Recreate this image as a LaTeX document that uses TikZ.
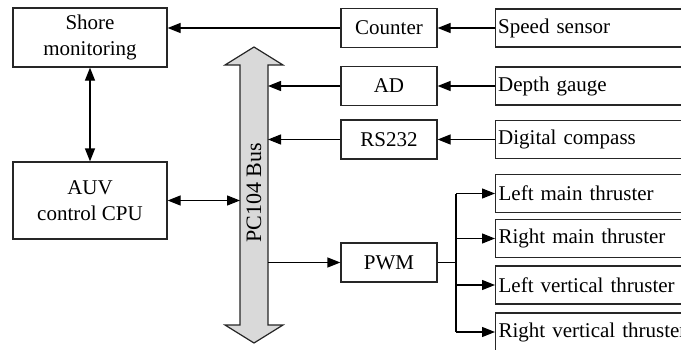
\documentclass[tikz,border=0pt]{standalone}
\usepackage{fontspec}
\setmainfont{Liberation Serif}
\usetikzlibrary{positioning,arrows.meta}

\tikzset{
  box/.style={draw=black!85, line width=1.2pt, rectangle, inner sep=0pt,
    align=center, font=\fontsize{21}{26}\selectfont},
  unit/.style={box, minimum width=96pt, minimum height=39pt},
  outer/.style={box, minimum height=38pt, text width=214pt, inner xsep=3pt, align=left},
  link/.style={line width=1.2pt, -{Triangle[length=13pt,width=10pt]}},
  both/.style={line width=1.2pt, {Triangle[length=13pt,width=10pt]}-{Triangle[length=13pt,width=10pt]}},
}

\begin{document}
\begin{tikzpicture}[x=1pt,y=-1pt]
  \useasboundingbox (0,0) rectangle (681,349);
  \clip (0,0) rectangle (681,349);

  % host side
  \node[box, minimum width=154pt, minimum height=59pt] (shore) at (90,37.5) {Shore\\monitoring};
  \node[box, minimum width=154pt, minimum height=77pt] (cpu) at (90,200.5) {AUV\\control CPU};

  % bus arrow
  \coordinate (busN) at (254,47);
  \coordinate (busS) at (254,343);
  \coordinate (busL) at (240,0);
  \coordinate (busR) at (268,0);
  \draw[line width=1.2pt, draw=black!85, fill=black!15]
    (240,65) -- (225,65) -- (busN) -- (283,65) -- (268,65) -- (268,325)
    -- (283,325) -- (busS) -- (225,325) -- (240,325) -- cycle;
  \node[rotate=90, font=\fontsize{22}{26}\selectfont] (buslabel) at (254,193) {PC104 Bus};

  % interface units
  \node[unit] (cnt) at (389,28) {Counter};
  \node[unit] (ad) at (389,86) {AD};
  \node[unit] (rs) at (389,139.5) {RS232};
  \node[unit] (pwm) at (389,262.5) {PWM};

  % sensors
  \node[outer, right=57pt of cnt] (speed) {Speed sensor};
  \node[outer, right=57pt of ad] (depth) {Depth gauge};
  \node[outer, right=57pt of rs] (compass) {Digital compass};

  % thrusters
  \node[outer, anchor=west] (lmt) at (495,193.5) {Left main thruster};
  \node[outer, anchor=west] (rmt) at (495,238.5) {Right main thruster};
  \node[outer, anchor=west] (lvt) at (495,285) {Left vertical thruster};
  \node[outer, anchor=west] (rvt) at (495,332) {Right vertical thruster};

  % connections
  \draw[link] (speed) -- (cnt);
  \draw[link] (depth) -- (ad);
  \draw[link] (compass) -- (rs);
  \draw[link] (cnt.west) -- (cnt.west -| shore.east);
  \draw[link] (ad) -- (ad -| busR);
  \draw[link] (rs) -- (rs -| busR);
  \draw[both] (shore) -- (cpu);
  \draw[both] (cpu) -- (cpu -| busL);
  \draw[link] (pwm -| busR) -- (pwm);

  \coordinate (fork) at (456,262.5);
  \draw[line width=1.2pt] (pwm.east) -- (fork);
  \draw[line width=1.2pt] (fork |- lmt) -- (fork |- rvt);
  \foreach \t in {lmt,rmt,lvt,rvt}
    \draw[link] (fork |- \t) -- (\t);
\end{tikzpicture}
\end{document}
